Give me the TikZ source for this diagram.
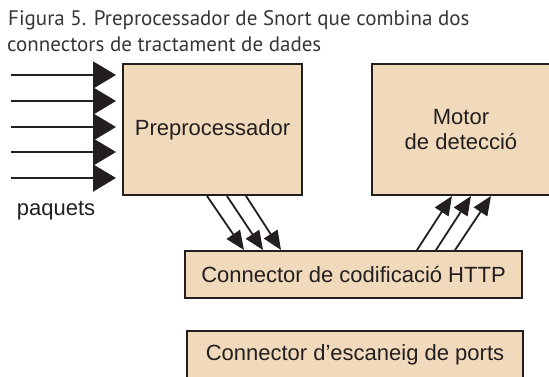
\documentclass[tikz,border=0pt]{standalone}
\usepackage{fontspec}
\setmainfont{Liberation Sans}
\newfontfamily\capfont{PT Sans}
\usetikzlibrary{arrows.meta,calc}
\definecolor{boxtan}{RGB}{241,218,187}
\definecolor{ink}{RGB}{35,31,32}
\tikzset{
  block/.style={draw=ink, line width=2pt, fill=boxtan, inner sep=0pt, text=ink,
    font=\fontsize{22}{25}\selectfont, align=center},
  feed/.style={draw=ink, line width=2pt, -{Triangle[length=23pt,width=27pt]}},
  flow/.style={draw=ink, line width=1.8pt, -{Triangle[length=19pt,width=16pt]}},
  caption/.style={anchor=base west, inner sep=0pt, text=ink!90,
    font=\capfont\fontsize{21}{26}\selectfont},
}
\begin{document}
\begin{tikzpicture}[x=1pt,y=-1pt]
\useasboundingbox (0,0) rectangle (549,376);
\clip (0,0) rectangle (549,376);
\node[caption] (cap1) at (8,25) {Figura 5. Preprocessador de Snort que combina dos};
\node[caption] (cap2) at (7,51) {connectors de tractament de dades};
\node[block, minimum width=179pt, minimum height=131pt] (pre) at (212.5,129.5) {Preprocessador};
\node[block, minimum width=178pt, minimum height=131pt] (det) at (461,129.5) {Motor\\de detecció};
\node[block, minimum width=337pt, minimum height=47pt] (http) at (353.5,274.5) {Connector de codificació HTTP};
\node[block, minimum width=336pt, minimum height=47pt] (port) at (355,354.5) {Connector d’escaneig de ports};
\foreach \y [count=\i] in {75,101,127,152,178} {
  \coordinate (in\i) at (11,\y);
  \draw[feed, shorten >=6pt] (in\i) -- (in\i -| pre.west);
}
\node[text=ink, font=\fontsize{22}{25}\selectfont] (pkt) at (56,211) {paquets};
\foreach \a/\b in {85/60, 105/79, 124/97}
  \draw[flow] ([xshift=\a]pre.south west) -- ([xshift=\b]http.north west);
\foreach \a/\b in {233/81, 252/100, 271/120}
  \draw[flow] ([xshift=\a]http.north west) -- ([xshift=\b]det.south west);
\end{tikzpicture}
\end{document}
